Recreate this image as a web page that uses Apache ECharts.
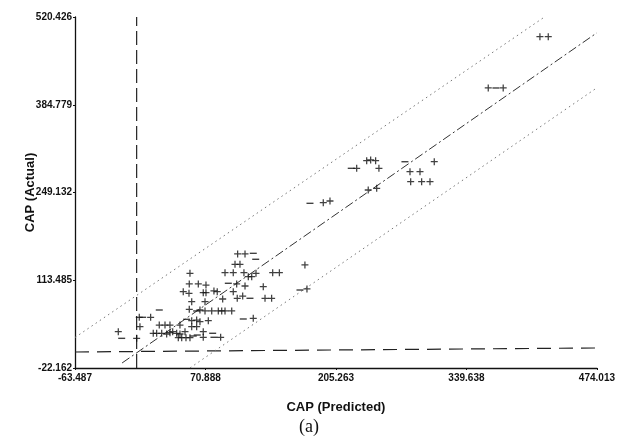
<!DOCTYPE html>
<html><head><meta charset="utf-8">
<script src="https://cdn.jsdelivr.net/npm/echarts@6/dist/echarts.min.js"></script>
<style>html,body{margin:0;padding:0;background:#fff}#c{width:618px;height:446px}</style>
</head><body><div id="c"></div>
<script>
// Axis ticks
const xTicks = [-63.487, 70.888, 205.263, 339.638, 474.013];
const yTicks = [-22.162, 113.485, 249.132, 384.779, 520.426];

// Points drawn as "+" (predicted, actual)
const plusPts = [
 [104.0,154.1],[111.6,154.1],[101.3,138.1],[106.4,138.1],[91.0,125.2],[99.5,125.2],[110.5,125.2],
 [115.0,119.0],[118.5,119.0],[122.9,124.2],[140.1,125.2],[147.0,125.2],[54.9,124.2],[54.2,107.7],
 [63.5,107.7],[71.4,106.1],[103.0,107.7],[111.6,104.6],[48.0,95.8],[53.9,93.3],[68.6,94.2],[71.4,94.2],
 [79.6,96.9],[83.0,95.8],[99.5,95.8],[88.6,84.5],[56.7,80.3],[70.4,80.3],[103.6,85.6],[109.2,89.1],
 [130.4,103.5],[132.2,85.6],[139.0,85.6],[54.2,68.6],[65.2,67.5],[70.4,66.0],[77.3,66.0],[84.1,66.0],
 [87.6,66.0],[91.0,66.0],[97.9,66.0],[2.7,56.2],[3.4,41.7],[14.4,56.2],[56.7,51.0],[61.8,52.0],
 [65.2,49.4],[73.8,51.0],[120.1,54.7],[23.3,44.3],[29.2,44.3],[34.3,44.3],[44.6,44.3],[56.7,41.7],
 [61.8,41.7],[68.6,33.9],[17.1,31.5],[20.6,31.5],[25.8,31.5],[30.9,30.4],[34.3,32.4],[37.1,33.9],
 [41.2,31.5],[44.6,30.4],[49.8,33.9],[42.9,24.7],[46.4,24.7],[50.8,24.7],[54.9,24.7],[68.6,25.3],
 [86.5,25.3],[-18.9,33.9],[0.0,23.7],
 [173.3,137.1],[175.4,100.0],[192.2,233.4],[199.1,236.0],
 [236.9,298.3],[241.0,299.4],[246.1,298.3],[226.6,286.5],[249.5,286.5],[306.5,296.7],
 [281.5,281.3],[291.8,281.3],[282.2,265.8],[293.5,265.8],[302.1,265.8],[238.5,253.0],[247.2,255.6],
 [362.1,410.7],[377.5,410.7],[415.3,490.0],[423.9,490.0]
];
// Points drawn as "−"
const minusPts = [
 [120.1,155.1],[122.6,145.9],[94.4,108.8],[116.7,85.6],[23.3,67.5],[61.8,66.0],[6.2,56.2],[51.5,53.1],
 [109.8,53.6],[58.3,27.3],[62.4,28.8],[78.3,31.5],[79.6,25.3],[-15.4,23.7],[168.2,98.4],[178.5,232.4],
 [276.3,296.7],[370.0,410.7],[221.0,286.5]
];

// Reference lines (endpoints)
const centerLine = [[-15.0,-14.4],[474.0,496.0]];
const upperLine = [[-63.487,25.0],[420.0,520.426]];
const lowerLine = [[55.0,-22.0],[474.0,411.0]];
const vLine = [[0,-22.162],[0,520.426]];
const hLine = [[-63.487,2.6],[474.013,8.8]];

const PLUS = 'path://M4.1,0H5.9V4.1H10V5.9H5.9V10H4.1V5.9H0V4.1H4.1Z';
const tickFont = {fontFamily:'"Liberation Sans Narrow","Arial Narrow","Liberation Sans",sans-serif',fontSize:10,fontWeight:'bold',color:'#111'};

const chart = echarts.init(document.getElementById('c'), null, {renderer:'canvas'});
function lineSeries(data, type, color, width){
  return {type:'line', data:data, symbol:'none', silent:true, animation:false,
    lineStyle:{type:type, color:color, width:width}, z:1};
}
function fmt(ticks){
  return function(v){let best=ticks[0]; ticks.forEach(t=>{if(Math.abs(t-v)<Math.abs(best-v))best=t;}); return best.toFixed(3);};
}
chart.setOption({
  animation:false,
  backgroundColor:'#fff',
  grid:{left:75, right:21, top:17, bottom:78},
  xAxis:{type:'value', min:xTicks[0], max:xTicks[xTicks.length-1], interval:xTicks[1]-xTicks[0],
    name:'CAP (Predicted)', nameLocation:'middle', nameGap:33, nameMoveOverlap:false,
    nameTextStyle:{fontFamily:'"Liberation Sans",Arial,sans-serif',fontSize:13,fontWeight:'bold',color:'#111'},
    axisLine:{show:true, onZero:false, lineStyle:{color:'#111',width:1.3}},
    axisTick:{show:true, length:2, lineStyle:{color:'#111'}},
    splitLine:{show:false},
    axisLabel:Object.assign({margin:5, formatter:fmt(xTicks)}, tickFont)},
  yAxis:{type:'value', min:yTicks[0], max:yTicks[yTicks.length-1], interval:yTicks[1]-yTicks[0],
    name:'CAP (Actual)', nameLocation:'middle', nameGap:38, nameMoveOverlap:false,
    nameTextStyle:{fontFamily:'"Liberation Sans",Arial,sans-serif',fontSize:13,fontWeight:'bold',color:'#111'},
    axisLine:{show:true, onZero:false, lineStyle:{color:'#111',width:1.3}},
    axisTick:{show:true, length:2, lineStyle:{color:'#111'}},
    splitLine:{show:false},
    axisLabel:Object.assign({margin:3, formatter:fmt(yTicks)}, tickFont)},
  graphic:[{type:'text', left:'center', top:418, style:{text:'(a)', font:'18px "Liberation Serif","Times New Roman",serif', fill:'#111'}}],
  series:[
    lineSeries(vLine,[14,5],'#222',1.2),
    lineSeries(hLine,[14,8],'#222',1.2),
    lineSeries(centerLine,[9,3,2,3],'#333',1),
    lineSeries(upperLine,[1.5,3.5],'#777',1),
    lineSeries(lowerLine,[1.5,3.5],'#777',1),
    {type:'scatter', data:plusPts, symbol:PLUS, symbolSize:7, itemStyle:{color:'#111'}, z:3},
    {type:'scatter', data:minusPts, symbol:'rect', symbolSize:[7,1.4], itemStyle:{color:'#111'}, z:3}
  ]
});
</script></body></html>
